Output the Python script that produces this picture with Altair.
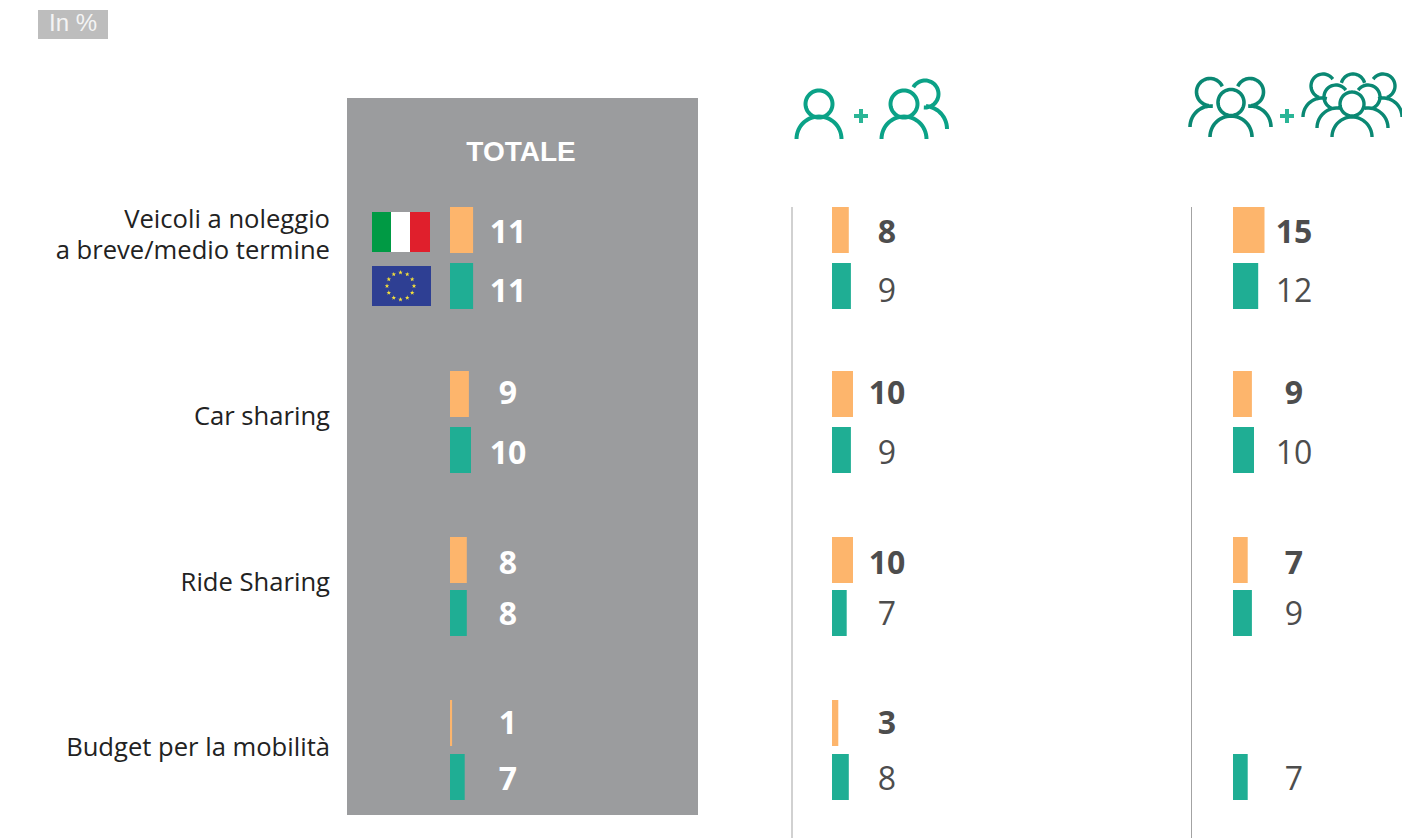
import math

import altair as alt
import pandas as pd

# Survey values, one list per column; each list runs over the categories, Italy then Europe.
categories = [
    "Veicoli a noleggio\na breve/medio termine",
    "Car sharing",
    "Ride Sharing",
    "Budget per la mobilità",
]
series_names = ["Italia", "Europa"]
totale = [11, 11, 9, 10, 8, 8, 1, 7]
coppie = [8, 9, 10, 9, 10, 7, 3, 8]
famiglie = [15, 12, 9, 10, 7, 9, None, 7]

W, H = 1402, 838
ORANGE, GREEN = "#fdb56c", "#1fae94"
DARK = "#4d4d4d"
SANS = "Open Sans"
ARIAL = "Liberation Sans"

# Vertical layout: one entry per bar, two per category.
ROW_IDS = list(range(8))
BAR_Y = [230, 286, 394, 450, 560, 613, 723, 777]
NUM_Y = [233, 292, 394, 454, 564, 615, 724, 780]
CAT_Y = [220, 417, 583, 748]


def panel_frame(values):
    rows = []
    for i, v in enumerate(values):
        if v is not None:
            rows.append({"row": i, "series": series_names[i % 2], "value": v})
    return pd.DataFrame(rows)


one = pd.DataFrame({"k": [0]})


def box(x0, x1, y0, y1, color):
    return (
        alt.Chart(one)
        .mark_rect(color=color)
        .encode(x=alt.value(x0), x2=alt.value(x1), y=alt.value(y0), y2=alt.value(y1))
    )


def note(text, x, y, size, color, font=ARIAL, weight="normal", align="center"):
    return (
        alt.Chart(one)
        .mark_text(
            text=text, font=font, fontSize=size, fontWeight=weight,
            color=color, align=align, baseline="middle",
        )
        .encode(x=alt.value(x), y=alt.value(y))
    )


def panel(values, bar_x, text_x, it_color, eu_color, eu_weight):
    df = panel_frame(values)
    bars = (
        alt.Chart(df)
        .mark_bar(size=46, orient="horizontal")
        .encode(
            x=alt.X(
                "value:Q", stack=None, axis=None,
                scale=alt.Scale(domain=[0, 100], range=[bar_x, bar_x + 210]),
            ),
            y=alt.Y(
                "row:Q", axis=None,
                scale=alt.Scale(domain=ROW_IDS, range=BAR_Y, padding=0),
            ),
            color=alt.Color(
                "series:N", legend=None,
                scale=alt.Scale(domain=series_names, range=[ORANGE, GREEN]),
            ),
        )
    )
    out = [bars]
    styles = [("Italia", it_color, "bold"), ("Europa", eu_color, eu_weight)]
    for name, color, weight in styles:
        out.append(
            alt.Chart(df[df.series == name])
            .mark_text(font=SANS, fontSize=32, fontWeight=weight, color=color, baseline="middle")
            .encode(
                x=alt.value(text_x),
                y=alt.Y("row:Q", axis=None, scale=alt.Scale(domain=ROW_IDS, range=NUM_Y)),
                text=alt.Text("value:Q"),
            )
        )
    return out


# Icon outlines are built as polylines in page pixels; size=4 keeps the symbol at unit scale.
def arc(cx, cy, r, a0, a1):
    n = max(6, int(abs(a1 - a0) / 6))
    pts = []
    for i in range(n + 1):
        a = math.radians(a0 + (a1 - a0) * i / n)
        pts.append((cx + r * math.cos(a), cy + r * math.sin(a)))
    return "M" + "L".join(f"{x:.2f},{y:.2f}" for x, y in pts)


def front(cx, cy, r, shoulders_y, shoulder_r):
    return arc(cx, cy, r, 0, 360) + "Z" + arc(cx, shoulders_y, shoulder_r, 180, 360)


def glyph(path, color, width):
    return (
        alt.Chart(one)
        .mark_point(shape=path, size=4, filled=False, stroke=color, strokeWidth=width, opacity=1)
        .encode(x=alt.value(0), y=alt.value(0))
    )


ICON_A, ICON_B = "#0ba287", "#0a8873"

single = front(819, 104, 13.5, 139, 22.5)
pair = (
    front(904, 104, 13.5, 139, 22.5)
    + arc(925, 94, 13.5, -150, 95)
    + arc(924, 129, 23, -85, 0)
)
group_three = (
    front(1231, 102.5, 13, 137, 21)
    + arc(1210, 92, 13.5, -25, -265)
    + arc(1211, 127, 21, -85, -180)
    + arc(1250, 92, 13.5, -155, 85)
    + arc(1250, 127, 21, -95, 0)
)
group_six = (
    front(1352, 104, 12, 137, 20)
    + arc(1336, 97, 12, -35, -250)
    + arc(1337, 128, 20, -80, -180)
    + arc(1368, 97, 12, -145, 70)
    + arc(1368, 128, 20, -100, 0)
    + arc(1323, 86, 12, -35, -250)
    + arc(1322, 117, 19, -75, -180)
    + arc(1353, 86, 12, -165, -15)
    + arc(1383, 86, 12, -145, 70)
    + arc(1383, 117, 19, -105, 0)
)


def plus(cx, cy):
    return (
        box(cx - 7, cx + 7, cy - 2, cy + 2, "#2ab596"),
        box(cx - 2, cx + 2, cy - 7, cy + 7, "#2ab596"),
    )


def star_ring(cx, cy, ring, r):
    d = ""
    for k in range(12):
        a = math.radians(30 * k)
        sx, sy = cx + ring * math.cos(a), cy + ring * math.sin(a)
        pts = []
        for j in range(10):
            rad = r if j % 2 == 0 else r * 0.42
            b = math.radians(-90 + 36 * j)
            pts.append(f"{sx + rad * math.cos(b):.2f},{sy + rad * math.sin(b):.2f}")
        d += "M" + "L".join(pts) + "Z"
    return d


stars = (
    alt.Chart(one)
    .mark_point(shape=star_ring(400.5, 286, 13.5, 2.4), size=4, filled=True, color="#f5e03a", opacity=1)
    .encode(x=alt.value(0), y=alt.value(0))
)

category_df = pd.DataFrame({"row": list(range(4)), "label": categories})
category_layer = (
    alt.Chart(category_df)
    .mark_text(
        font=SANS, fontSize=25.6, color="#222222", align="right",
        baseline="middle", lineBreak="\n", lineHeight=31,
    )
    .encode(
        x=alt.value(330),
        y=alt.Y("row:Q", axis=None, scale=alt.Scale(domain=list(range(4)), range=CAT_Y)),
        text="label:N",
    )
)

layers = [
    box(38, 108, 10, 39, "#bdbdbd"),
    note("In %", 73, 24, 24, "#f4f4f4"),
    box(347, 698, 98, 815, "#9b9c9e"),
    note("TOTALE", 521, 153, 28, "#ffffff", weight="bold"),
    box(372, 391, 212, 252, "#009a44"),
    box(391, 410, 212, 252, "#ffffff"),
    box(410, 430, 212, 252, "#e01f2c"),
    box(372, 431, 266, 306, "#2e3f93"),
    stars,
    box(791.5, 792.5, 207, 838, "#a3a3a3"),
    box(1191, 1192, 207, 838, "#a3a3a3"),
    category_layer,
    glyph(single, ICON_A, 4),
    glyph(pair, ICON_A, 4),
    glyph(group_three, ICON_B, 3.6),
    glyph(group_six, ICON_B, 3.4),
    *plus(861, 116),
    *plus(1287, 116),
    *panel(totale, 450, 508, "#ffffff", "#ffffff", "bold"),
    *panel(coppie, 832, 887, DARK, DARK, "normal"),
    *panel(famiglie, 1233, 1294, DARK, DARK, "normal"),
]

chart = (
    alt.layer(*layers)
    .resolve_scale(x="independent", y="independent", color="independent")
    .properties(width=W, height=H, padding=0, autosize=alt.AutoSizeParams(type="none"))
    .configure_view(stroke=None)
)

chart.save("out.html", embed_options={"renderer": "svg", "actions": False})
